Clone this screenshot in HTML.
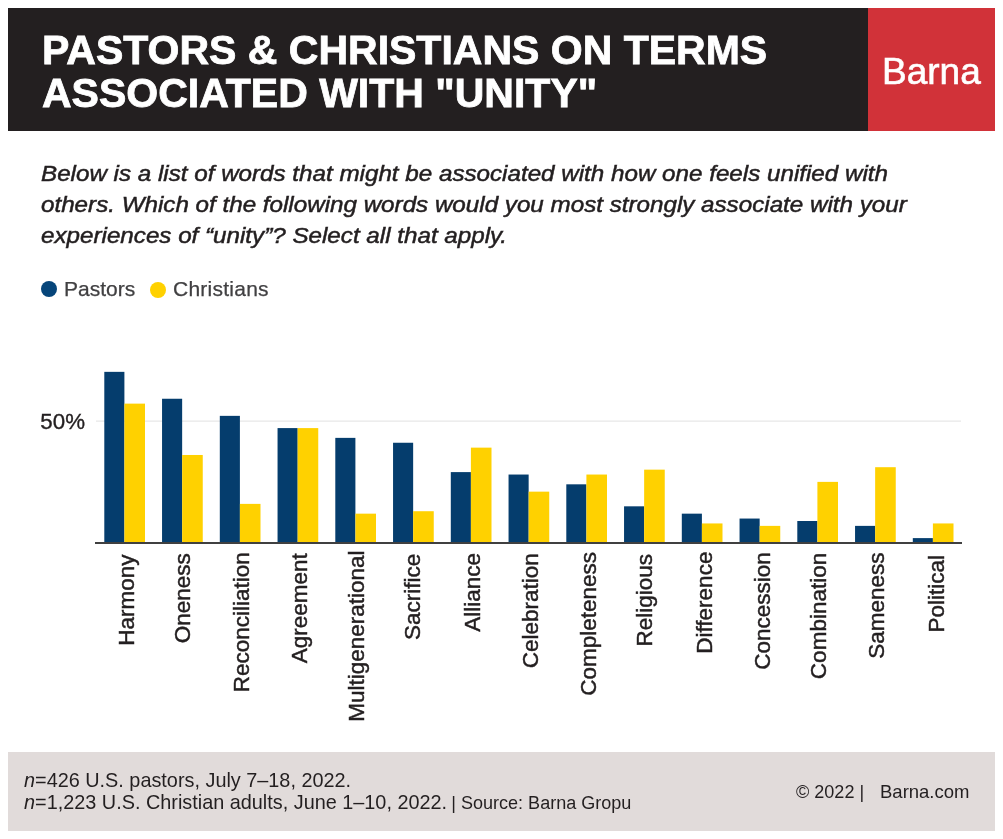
<!DOCTYPE html>
<html><head><meta charset="utf-8"><style>
*{margin:0;padding:0;box-sizing:border-box}
html,body{width:1003px;height:839px;overflow:hidden;background:#fff}
body{position:relative;-webkit-font-smoothing:antialiased;font-family:"Liberation Sans",sans-serif;color:#231f20}
.a{position:absolute;white-space:nowrap;will-change:transform}
#hd{left:8px;top:8px;width:860px;height:123px;background:#231f20}
#rd{left:868px;top:8px;width:127px;height:123px;background:#d13239}
#tt{left:41.6px;top:28.5px;font-weight:bold;font-size:41px;line-height:42.8px;color:#fff;-webkit-text-stroke:0.8px #fff}
#bn{left:882.3px;top:52.6px;font-size:37px;line-height:37px;color:#fff;-webkit-text-stroke:0.6px #fff}
#sb{left:41.3px;top:158.3px;font-style:italic;font-size:22.5px;letter-spacing:0px;-webkit-text-stroke:0.5px #231f20;line-height:31px;color:#231f20;transform:scaleX(1.075);transform-origin:0 0}
.dot{position:absolute;width:16px;height:16px;border-radius:50%}
.lg{font-size:21px;line-height:21px;color:#414042;-webkit-text-stroke:0.25px #414042}
#ft{left:8px;top:752px;width:987px;height:79px;background:#e1dbda}
.f{font-size:19.85px;line-height:22.4px;color:#231f20}
.fs{font-size:18.05px}
</style></head><body>
<div class="a" id="hd"></div>
<div class="a" id="rd"></div>
<div class="a" id="tt">PASTORS &amp; CHRISTIANS ON TERMS<br>ASSOCIATED WITH "UNITY"</div>
<div class="a" id="bn">Barna</div>
<div class="a" id="sb">Below is a list of words that might be associated with how one feels unified with<br>others. Which of the following words would you most strongly associate with your<br>experiences of “unity”? Select all that apply.</div>
<div class="dot" style="left:41.3px;top:281.3px;background:#06457a"></div>
<div class="a lg" style="left:64.3px;top:278.1px">Pastors</div>
<div class="dot" style="left:150px;top:281.5px;background:#ffd100"></div>
<div class="a lg" style="left:173px;top:278.1px;letter-spacing:0.25px">Christians</div>
<svg class="a" style="left:0;top:0" width="1003" height="839" font-family="Liberation Sans" font-size="22.5" fill="#231f20" stroke="#231f20" stroke-width="0.45">
<rect stroke="none" x="96" y="420.6" width="865" height="1" fill="#e2e2e2"/>
<text x="85" y="429.1" text-anchor="end" font-size="22.3" stroke-width="0.35">50%</text>
<rect stroke="none" x="104.30" y="371.85" width="20.10" height="171.15" fill="#053d6d"/><rect stroke="none" x="124.40" y="403.63" width="20.60" height="139.36" fill="#ffd100"/><rect stroke="none" x="162.05" y="398.75" width="20.10" height="144.25" fill="#053d6d"/><rect stroke="none" x="182.15" y="454.98" width="20.60" height="88.02" fill="#ffd100"/><rect stroke="none" x="219.80" y="415.86" width="20.10" height="127.14" fill="#053d6d"/><rect stroke="none" x="239.90" y="503.88" width="20.60" height="39.12" fill="#ffd100"/><rect stroke="none" x="277.55" y="428.09" width="20.10" height="114.91" fill="#053d6d"/><rect stroke="none" x="297.65" y="428.09" width="20.60" height="114.91" fill="#ffd100"/><rect stroke="none" x="335.30" y="437.87" width="20.10" height="105.13" fill="#053d6d"/><rect stroke="none" x="355.40" y="513.66" width="20.60" height="29.34" fill="#ffd100"/><rect stroke="none" x="393.05" y="442.75" width="20.10" height="100.24" fill="#053d6d"/><rect stroke="none" x="413.15" y="511.22" width="20.60" height="31.78" fill="#ffd100"/><rect stroke="none" x="450.80" y="472.10" width="20.10" height="70.91" fill="#053d6d"/><rect stroke="none" x="470.90" y="447.64" width="20.60" height="95.35" fill="#ffd100"/><rect stroke="none" x="508.55" y="474.54" width="20.10" height="68.46" fill="#053d6d"/><rect stroke="none" x="528.65" y="491.65" width="20.60" height="51.34" fill="#ffd100"/><rect stroke="none" x="566.30" y="484.32" width="20.10" height="58.68" fill="#053d6d"/><rect stroke="none" x="586.40" y="474.54" width="20.60" height="68.46" fill="#ffd100"/><rect stroke="none" x="624.05" y="506.32" width="20.10" height="36.67" fill="#053d6d"/><rect stroke="none" x="644.15" y="469.65" width="20.60" height="73.35" fill="#ffd100"/><rect stroke="none" x="681.80" y="513.66" width="20.10" height="29.34" fill="#053d6d"/><rect stroke="none" x="701.90" y="523.44" width="20.60" height="19.56" fill="#ffd100"/><rect stroke="none" x="739.55" y="518.55" width="20.10" height="24.45" fill="#053d6d"/><rect stroke="none" x="759.65" y="525.88" width="20.60" height="17.11" fill="#ffd100"/><rect stroke="none" x="797.30" y="521.00" width="20.10" height="22.00" fill="#053d6d"/><rect stroke="none" x="817.40" y="481.88" width="20.60" height="61.12" fill="#ffd100"/><rect stroke="none" x="855.05" y="525.88" width="20.10" height="17.11" fill="#053d6d"/><rect stroke="none" x="875.15" y="467.20" width="20.60" height="75.80" fill="#ffd100"/><rect stroke="none" x="912.80" y="538.11" width="20.10" height="4.89" fill="#053d6d"/><rect stroke="none" x="932.90" y="523.44" width="20.60" height="19.56" fill="#ffd100"/>
<rect stroke="none" x="95" y="542" width="867" height="2" fill="#404040"/>
<text transform="translate(134.20,554.4) rotate(-90)" text-anchor="end">Harmony</text><text transform="translate(190.05,553.3) rotate(-90)" text-anchor="end">Oneness</text><text transform="translate(249.30,552.2) rotate(-90)" text-anchor="end">Reconciliation</text><text transform="translate(307.25,553.2) rotate(-90)" text-anchor="end">Agreement</text><text transform="translate(364.40,550.5) rotate(-90)" text-anchor="end">Multigenerational</text><text transform="translate(420.45,553.7) rotate(-90)" text-anchor="end">Sacrifice</text><text transform="translate(480.00,553.0) rotate(-90)" text-anchor="end">Alliance</text><text transform="translate(537.95,553.2) rotate(-90)" text-anchor="end">Celebration</text><text transform="translate(595.50,552.0) rotate(-90)" text-anchor="end">Completeness</text><text transform="translate(652.35,554.0) rotate(-90)" text-anchor="end">Religious</text><text transform="translate(712.10,551.6) rotate(-90)" text-anchor="end">Difference</text><text transform="translate(769.65,552.1) rotate(-90)" text-anchor="end">Concession</text><text transform="translate(826.00,552.8) rotate(-90)" text-anchor="end">Combination</text><text transform="translate(883.55,552.4) rotate(-90)" text-anchor="end">Sameness</text><text transform="translate(944.00,555.0) rotate(-90)" text-anchor="end">Political</text>
</svg>
<div class="a" id="ft"></div>
<div class="a f" style="left:24px;top:768.5px"><i>n</i>=426 U.S. pastors, July 7–18, 2022.<br><i>n</i>=1,223 U.S. Christian adults, June 1–10, 2022.<span class="fs" style="margin-left:4.2px">| Source: Barna Gropu</span></div>
<div class="a f fs" style="left:795.5px;top:781.3px">© 2022 |</div><div class="a f fs" style="left:879.6px;top:781.3px;font-size:18.5px">Barna.com</div>
</body></html>
